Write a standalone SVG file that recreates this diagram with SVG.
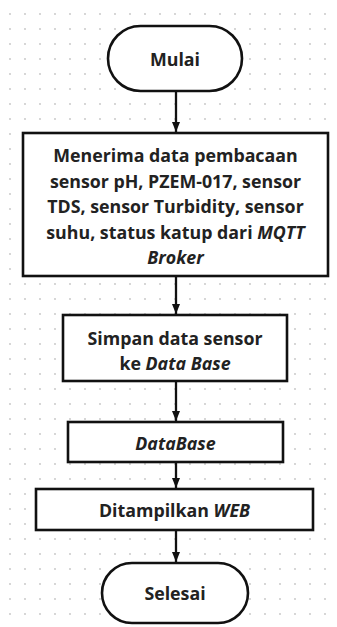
<svg xmlns="http://www.w3.org/2000/svg" width="337" height="627" viewBox="0 0 337 627">
<defs>
<pattern id="dots" x="3" y="7" width="15" height="15" patternUnits="userSpaceOnUse">
<circle cx="7" cy="7" r="0.9" fill="#c4c4c4"/>
</pattern>
<marker id="arr" markerWidth="10" markerHeight="8" refX="10" refY="4" orient="auto" markerUnits="userSpaceOnUse">
<path d="M0,0 L10,4 L0,8 Z" fill="#111"/>
</marker>
</defs>
<style>
.shape{fill:#fff;stroke:#111;stroke-width:2.6}
.t{font-family:"Open Sans","Noto Sans",sans-serif;font-weight:700;font-size:17.8px;fill:#222;text-anchor:middle;dominant-baseline:central}
.i{font-style:italic}
.edge{stroke:#111;stroke-width:2.3;fill:none;marker-end:url(#arr)}
</style>
<rect width="337" height="627" fill="#fff"/>
<rect width="337" height="627" fill="url(#dots)"/>
<g id="connectors">
<line class="edge" x1="176" y1="91" x2="176" y2="132"/>
<line class="edge" x1="176" y1="276" x2="176" y2="314"/>
<line class="edge" x1="176" y1="381" x2="176" y2="421"/>
<line class="edge" x1="176" y1="462" x2="176" y2="488"/>
<line class="edge" x1="176" y1="530" x2="176" y2="562"/>
</g>
<g id="mulai">
<rect class="shape" x="108" y="26" width="134" height="65" rx="32.5"/>
<text class="t" x="175" y="59">Mulai</text>
</g>
<g id="menerima">
<rect class="shape" x="23" y="133" width="305" height="143"/>
<text class="t" x="175.5" y="155">Menerima data pembacaan</text>
<text class="t" x="175.5" y="180.5">sensor pH, PZEM-017, sensor</text>
<text class="t" x="175.5" y="206">TDS, sensor Turbidity, sensor</text>
<text class="t" x="175.5" y="231.5">suhu, status katup dari <tspan class="i">MQTT</tspan></text>
<text class="t i" x="175.5" y="257">Broker</text>
</g>
<g id="simpan">
<rect class="shape" x="63" y="315" width="224" height="66"/>
<text class="t" x="175" y="338">Simpan data sensor</text>
<text class="t" x="175" y="363">ke <tspan class="i">Data Base</tspan></text>
</g>
<g id="database">
<rect class="shape" x="68" y="422" width="215" height="40"/>
<text class="t i" x="175.5" y="443">DataBase</text>
</g>
<g id="web">
<rect class="shape" x="36" y="489" width="277" height="41"/>
<text class="t" x="174.5" y="510">Ditampilkan <tspan class="i">WEB</tspan></text>
</g>
<g id="selesai">
<rect class="shape" x="102" y="563" width="146" height="60" rx="30"/>
<text class="t" x="175" y="593">Selesai</text>
</g>
</svg>
